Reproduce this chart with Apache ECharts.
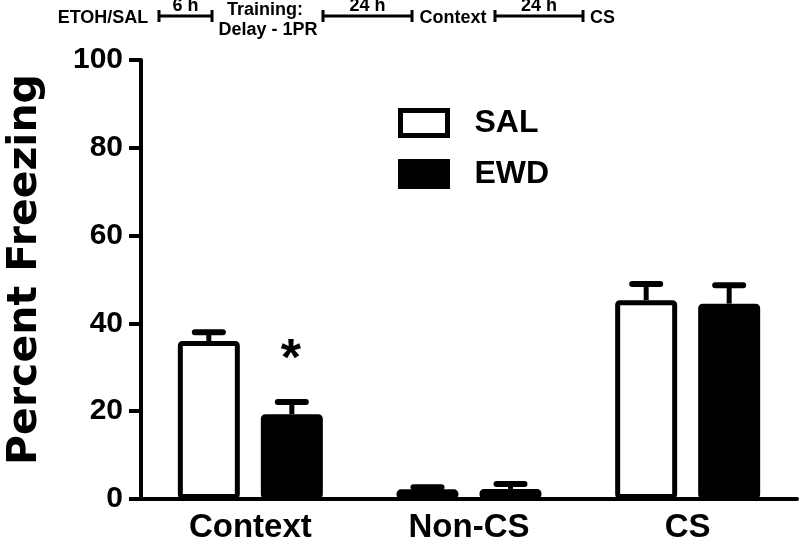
<!DOCTYPE html>
<html>
<head>
<meta charset="utf-8">
<script src="https://cdn.jsdelivr.net/npm/echarts@6/dist/echarts.min.js"></script>
<style>
html,body{margin:0;padding:0;background:#fff;}
#chart{width:800px;height:544px;}
</style>
</head>
<body>
<div id="chart"></div>
<script>
// ---- data ----
const categories = ['Context', 'Non-CS', 'CS'];
const seriesNames = ['SAL', 'EWD'];
const salValues = [36.0, 2.2, 45.3];
const salErrors = [2.0, 0.5, 3.7];
const ewdValues = [19.3, 2.3, 44.5];
const ewdErrors = [2.8, 1.1, 4.2];
const ewdSignificance = ['*', '', ''];
const yTicks = [0, 20, 40, 60, 80, 100];
const yAxisTitle = 'Percent Freezing';
const timelineSteps = ['ETOH/SAL', 'Training:', 'Delay - 1PR', 'Context', 'CS'];
const timelineIntervals = ['6 h', '24 h', '24 h'];

const FONT = '"Liberation Sans", Arial, Helvetica, sans-serif';
const TITLE_FONT = '"DejaVu Sans", "Liberation Sans", Arial, sans-serif';
const BAR_W = 62;
const BAR_GAP_PX = 21;
const OFFSET = (BAR_W + BAR_GAP_PX) / 2;

function errRender(offsetSign, sig) {
  return function (params, api) {
    const idx = api.value(0);
    const v = api.value(1);
    const e = api.value(2);
    const base = api.coord([idx, v]);
    const top = api.coord([idx, v + e]);
    const x = base[0] + offsetSign * OFFSET;
    const children = [
      { type: 'line', shape: { x1: x, y1: base[1], x2: x, y2: top[1] },
        style: { stroke: '#000', lineWidth: 5 } },
      { type: 'line', shape: { x1: x - 14, y1: top[1], x2: x + 14, y2: top[1] },
        style: { stroke: '#000', lineWidth: 6, lineCap: 'round' } }
    ];
    if (sig && sig[idx]) {
      children.push({ type: 'text', x: x - 1, y: top[1] - 41,
        style: { text: sig[idx], fill: '#000', font: 'bold 52px ' + FONT,
                 align: 'center', verticalAlign: 'middle' } });
    }
    return { type: 'group', children: children };
  };
}

function segment(x1, x2, y, label) {
  return [
    { type: 'line', shape: { x1: x1, y1: y, x2: x2, y2: y }, style: { stroke: '#000', lineWidth: 3 } },
    { type: 'line', shape: { x1: x1, y1: y - 6, x2: x1, y2: y + 6 }, style: { stroke: '#000', lineWidth: 3 } },
    { type: 'line', shape: { x1: x2, y1: y - 6, x2: x2, y2: y + 6 }, style: { stroke: '#000', lineWidth: 3 } },
    { type: 'text', x: (x1 + x2) / 2, y: y - 1,
      style: { text: label, fill: '#000', font: 'bold 18px ' + FONT, align: 'center', verticalAlign: 'bottom' } }
  ];
}
function tlText(x, y, t, align) {
  return { type: 'text', x: x, y: y,
    style: { text: t, fill: '#000', font: 'bold 18px ' + FONT, align: align || 'center', verticalAlign: 'middle' } };
}

const chart = echarts.init(document.getElementById('chart'), null, { renderer: 'canvas' });
const option = {
  animation: false,
  backgroundColor: '#fff',
  grid: { left: 141, right: 3, top: 60, bottom: 45, containLabel: false, outerBoundsMode: 'none' },
  legend: {
    data: seriesNames,
    orient: 'vertical',
    left: 393, top: 102,
    itemWidth: 47, itemHeight: 25, itemGap: 19,
    icon: 'rect',
    itemStyle: { borderWidth: 5, borderColor: '#000' },
    textStyle: { fontFamily: FONT, fontWeight: 'bold', fontSize: 32, color: '#000', padding: [0, 0, 0, 22] }
  },
  xAxis: {
    type: 'category',
    data: categories,
    axisLine: { lineStyle: { color: '#000', width: 4 } },
    axisTick: { alignWithLabel: true, length: 12, lineStyle: { color: '#000', width: 4 } },
    axisLabel: { color: '#000', fontFamily: FONT, fontWeight: 'bold', fontSize: 33, margin: 12 }
  },
  yAxis: {
    type: 'value',
    min: yTicks[0], max: yTicks[yTicks.length - 1], interval: yTicks[1] - yTicks[0],
    name: yAxisTitle,
    nameLocation: 'middle',
    nameGap: 95,
    nameTextStyle: { color: '#000', fontFamily: TITLE_FONT, fontWeight: 'bold', fontSize: 41, padding: [0, 0, 0, 20] },
    axisLine: { show: true, lineStyle: { color: '#000', width: 4 } },
    axisTick: { show: true, length: 12, lineStyle: { color: '#000', width: 4 } },
    axisLabel: { color: '#000', fontFamily: FONT, fontWeight: 'bold', fontSize: 30, margin: 18 },
    splitLine: { show: false }
  },
  series: [
    { name: 'SAL', type: 'bar', data: salValues, barWidth: BAR_W,
      barGap: (BAR_GAP_PX / BAR_W * 100) + '%',
      itemStyle: { color: '#fff', borderColor: '#000', borderWidth: 5, borderRadius: 2 }, z: 2 },
    { name: 'EWD', type: 'bar', data: ewdValues, barWidth: BAR_W,
      itemStyle: { color: '#000', borderColor: '#000', borderWidth: 5, borderRadius: 2 }, z: 2 },
    { name: 'SAL err', type: 'custom', z: 3, clip: false,
      data: salValues.map((v, i) => [i, v, salErrors[i]]),
      renderItem: errRender(-1, null) },
    { name: 'EWD err', type: 'custom', z: 3, clip: false,
      data: ewdValues.map((v, i) => [i, v, ewdErrors[i]]),
      renderItem: errRender(1, ewdSignificance) }
  ],
  graphic: [].concat(
    [tlText(103, 18, timelineSteps[0])],
    segment(159, 212, 16, timelineIntervals[0]),
    [tlText(265, 10, timelineSteps[1]), tlText(268, 30, timelineSteps[2])],
    segment(323, 412, 16, timelineIntervals[1]),
    [tlText(453, 18, timelineSteps[3])],
    segment(495, 583, 16, timelineIntervals[2]),
    [tlText(590, 18, timelineSteps[4], 'left')]
  )
};
chart.setOption(option);
</script>
</body>
</html>
